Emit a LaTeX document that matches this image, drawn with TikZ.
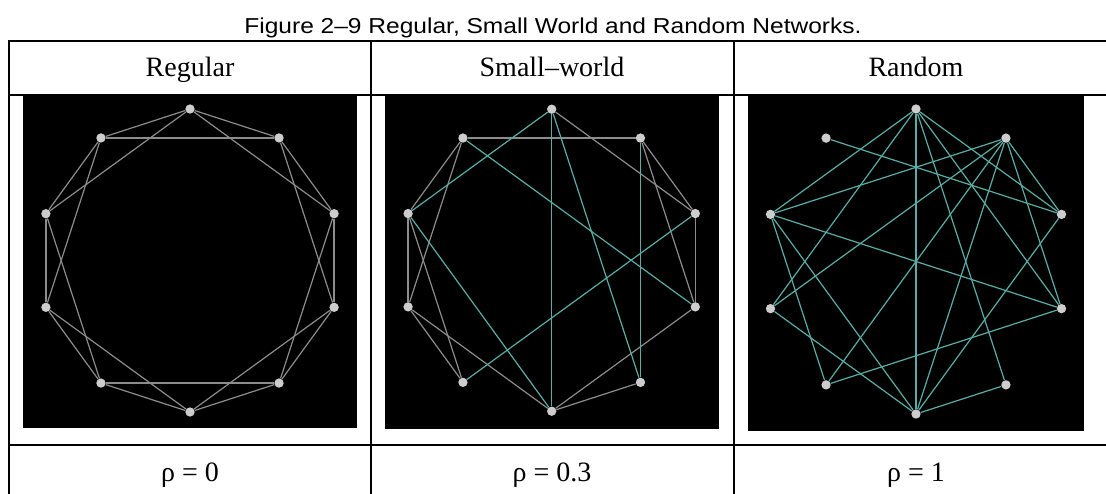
\documentclass[tikz,border=0pt]{standalone}
\usepackage{fontspec}
\setmainfont{Liberation Serif}
\newfontfamily\titlefont{Liberation Sans}
\definecolor{edgegray}{RGB}{140,140,140}
\definecolor{edgeteal}{RGB}{88,174,166}
\definecolor{vertfill}{RGB}{205,205,205}
\begin{document}
\begin{tikzpicture}[x=0.75pt,y=-0.75pt,
  tableline/.style={line width=1.5pt,black},
  panel/.style={fill=black},
  vert/.style={circle,fill=vertfill,inner sep=0pt,minimum size=7pt},
  gedge/.style={draw=edgegray,line width=0.9pt},
  tedge/.style={draw=edgeteal,line width=0.9pt},
  titletext/.style={font=\titlefont\fontsize{18.4pt}{20pt}\selectfont,anchor=base,inner sep=0pt},
  celltext/.style={font=\fontsize{21pt}{24pt}\selectfont,anchor=base,inner sep=0pt}]
\useasboundingbox (0,0) rectangle (1106,493);
\fill[white] (0,0) rectangle (1106,493);
\begin{scope}
\clip (0,0) rectangle (1106,493);
% table rules
\draw[tableline] (8,41) -- (1120,41);
\draw[tableline] (8,94.5) -- (1120,94.5);
\draw[tableline] (8,444.5) -- (1120,444.5);
\draw[tableline] (9,40) -- (9,500);
\draw[tableline] (371,40) -- (371,500);
\draw[tableline] (733.7,40) -- (733.7,500);
\end{scope}
% title
\node[titletext] (title) at (553,33) {\scalebox{1}[0.88]{Figure 2–9 Regular, Small World and Random Networks.}};
% headers
\node[celltext] (h1) at (190,76) {Regular};
\node[celltext] (h2) at (552,76) {Small–world};
\node[celltext] (h3) at (916,76) {Random};
% footers
\node[celltext] (f1) at (190,481) {ρ = 0};
\node[celltext] (f2) at (552,481) {ρ = 0.3};
\node[celltext] (f3) at (916,481) {ρ = 1};
% panels
\fill[panel] (23,95) rectangle (357,428);
\fill[panel] (385,95) rectangle (719,429);
\fill[panel] (748,95) rectangle (1084,431);
% vertices
\foreach \k in {0,...,9} {
  \node[vert] (a\k) at ({190+151.5*cos(90-36*\k)},{260.5-151.5*sin(90-36*\k)}) {};
  \node[vert] (b\k) at ({551.7+151*cos(90-36*\k)},{260.2-151*sin(90-36*\k)}) {};
  \node[vert] (c\k) at ({916+153*cos(90-36*\k)},{261.5-152.5*sin(90-36*\k)}) {};
}
% regular
\foreach \i/\j in {0/1,1/2,2/3,3/4,4/5,5/6,6/7,7/8,8/9,9/0,0/2,1/3,2/4,3/5,4/6,5/7,6/8,7/9,8/0,9/1}
  \draw[gedge] (a\i) -- (a\j);
% small world
\foreach \i/\j in {0/2,9/1,9/8,9/7,1/2,1/3,2/3,3/5,4/5,8/7,8/6,7/6,7/5}
  \draw[gedge] (b\i) -- (b\j);
\foreach \i/\j in {0/8,0/5,0/4,9/3,1/4,2/6,8/5}
  \draw[tedge] (b\i) -- (b\j);
% random
\foreach \i/\j in {9/2,0/8,0/7,0/5,0/4,0/3,0/2,1/8,1/7,1/6,1/5,1/3,1/2,2/5,3/6,3/8,4/5,8/6,8/5,7/5}
  \draw[tedge] (c\i) -- (c\j);
\end{tikzpicture}
\end{document}
